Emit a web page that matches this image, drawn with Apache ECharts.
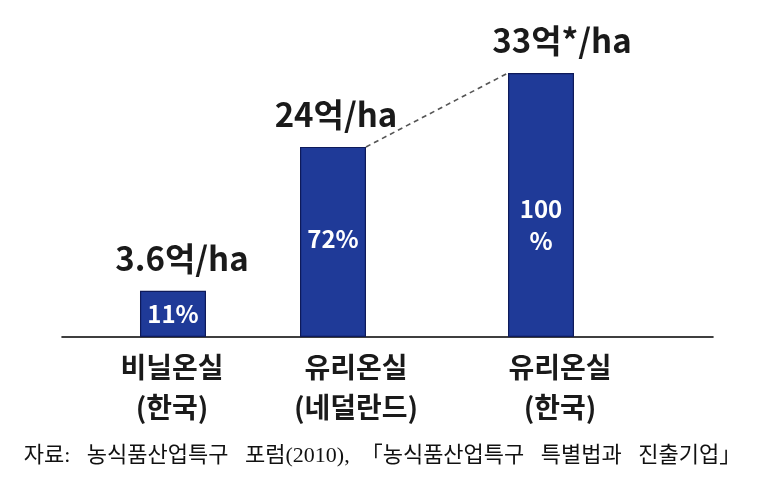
<!DOCTYPE html>
<html>
<head>
<meta charset="utf-8">
<script src="https://cdn.jsdelivr.net/npm/echarts@6/dist/echarts.min.js"></script>
<style>
  html, body { margin: 0; padding: 0; background: #fff; }
  #chart { width: 765px; height: 490px; }
</style>
</head>
<body>
<div id="chart"></div>
<script>
// ---- data ----
const categories = ['비닐온실\n(한국)', '유리온실\n(네덜란드)', '유리온실\n(한국)'];
const barHeights = [17.5, 72, 100];          // drawn bar heights (Korean glass greenhouse = 100)
const shareLabels = ['11%', '72%', '100\n%'];
const yieldLabels = ['3.6억/ha', '24억/ha', '33억*/ha'];
const sourceNote = '자료:   농식품산업특구   포럼(2010),  「농식품산업특구   특별법과   진출기업」';

// ---- styling / layout ----
const FONT = '"Noto Sans CJK KR", "Noto Sans", sans-serif';
const BAR_W = 66;
const SHIFT = 12;                 // half distance between the two bar slots
const BAR_GAP = ((2 * SHIFT - BAR_W) / BAR_W * 100).toFixed(2) + '%';
const slotOf = [1, 0, 1];         // bar 2 sits in left slot, bars 1 & 3 in right slot
const yieldLabelShift = [[9, 0], [3, 0], [21, 0]];
const shareLabelShift = [[0, 0], [0, -3], [0, 20]];
const catLabelPad = [22, 22, 62];
const barFill = '#1f3a98';
const barBorder = '#0e1a5a';

function slotData(slot, valueFn) {
  return barHeights.map((v, i) => slotOf[i] === slot ? valueFn(v, i) : null);
}

const mainSeries = (slot) => ({
  type: 'bar',
  stack: 'slot' + slot,
  barWidth: BAR_W,
  barGap: BAR_GAP,
  xAxisIndex: 0, yAxisIndex: 0,
  itemStyle: { color: barFill, borderColor: barBorder, borderWidth: 1.2 },
  data: slotData(slot, (v, i) => ({
    value: v,
    label: { offset: shareLabelShift[i] }
  })),
  label: {
    show: true, position: 'inside',
    color: '#fff', fontSize: 24, fontWeight: 'bold', fontFamily: FONT, lineHeight: 32,
    formatter: (p) => shareLabels[p.dataIndex]
  },
  silent: true
});

const capSeries = (slot) => ({
  type: 'bar',
  stack: 'slot' + slot,
  barWidth: BAR_W,
  barGap: BAR_GAP,
  xAxisIndex: 0, yAxisIndex: 0,
  itemStyle: { color: 'rgba(0,0,0,0)' },
  data: slotData(slot, (v, i) => ({
    value: 0,
    label: { offset: yieldLabelShift[i] }
  })),
  label: {
    show: true, position: 'top', distance: 16,
    color: '#1a1a1a', fontSize: 33, fontWeight: 'bold', fontFamily: FONT,
    formatter: (p) => yieldLabels[p.dataIndex]
  },
  silent: true
});

const option = {
  animation: false,
  textStyle: { fontFamily: FONT },
  title: {
    text: sourceNote,
    left: 'center', bottom: 18,
    textStyle: { fontFamily: '"Liberation Serif", "Noto Sans CJK KR", serif', fontSize: 22, fontWeight: 'normal', color: '#111' }
  },
  grid: [
    { left: 69, width: 552, top: 73, bottom: 153 },
    { left: 62, right: 52, top: 73, bottom: 153 }
  ],
  xAxis: [
    {
      type: 'category', gridIndex: 0,
      data: categories.map((c, i) => ({ value: c, textStyle: { padding: [0, 0, 0, catLabelPad[i]] } })),
      axisLine: { show: false }, axisTick: { show: false },
      axisLabel: {
        interval: 0, margin: 10,
        fontSize: 28, fontWeight: 'bold', color: '#1a1a1a', lineHeight: 40, fontFamily: FONT
      }
    },
    {
      type: 'value', gridIndex: 1, min: 0, max: 1,
      axisLine: { show: true, onZero: false, lineStyle: { color: '#000', width: 1.6 } },
      axisTick: { show: false }, axisLabel: { show: false }, splitLine: { show: false }
    }
  ],
  yAxis: [
    { type: 'value', gridIndex: 0, min: 0, max: 100, show: false, splitLine: { show: false } },
    { type: 'value', gridIndex: 1, min: 0, max: 1, show: false, splitLine: { show: false } }
  ],
  series: [
    mainSeries(0), capSeries(0),
    mainSeries(1), capSeries(1),
    {
      type: 'custom',
      xAxisIndex: 0, yAxisIndex: 0,
      silent: true,
      data: [[1, barHeights[1], 2, barHeights[2]]],
      renderItem: function (params, api) {
        const a = api.coord([api.value(0), api.value(1)]);
        const b = api.coord([api.value(2), api.value(3)]);
        // bar in left slot is shifted -SHIFT, right slot +SHIFT
        const x1 = a[0] - SHIFT + BAR_W / 2;
        const x2 = b[0] + SHIFT - BAR_W / 2;
        return {
          type: 'line',
          shape: { x1: x1, y1: a[1], x2: x2, y2: b[1] },
          style: { stroke: '#555', lineWidth: 1.6, lineDash: [5, 4] }
        };
      }
    }
  ]
};

const chart = echarts.init(document.getElementById('chart'), null, { renderer: 'canvas' });
chart.setOption(option);
</script>
</body>
</html>
